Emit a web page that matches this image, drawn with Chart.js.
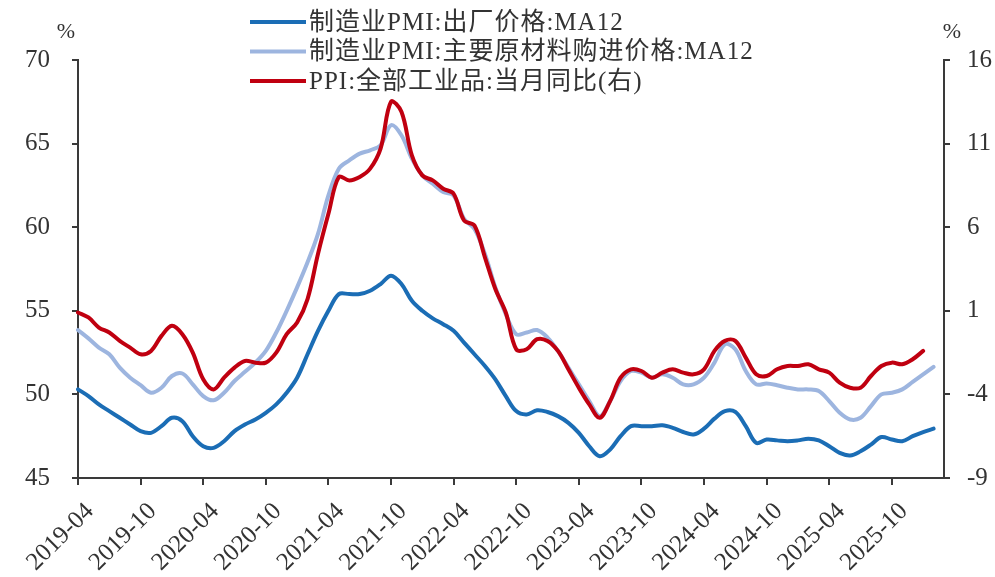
<!DOCTYPE html>
<html>
<head>
<meta charset="utf-8">
<script src="https://cdn.jsdelivr.net/npm/chart.js@4.4.1/dist/chart.umd.min.js"></script>
<style>
  html, body { margin: 0; padding: 0; background: #ffffff; }
  #wrap { width: 995px; height: 577px; }
</style>
</head>
<body>
<div id="wrap"><canvas id="c" width="995" height="577"></canvas></div>
<script>
// Monthly categories, 2019-04 through 2026-03
const months = [];
for (let y = 2019, m = 4; months.length < 84;) {
  months.push(y + '-' + String(m).padStart(2, '0'));
  m++;
  if (m > 12) { m = 1; y++; }
}

// 制造业PMI:出厂价格, 12-month moving average (left axis)
const pmiOutputMA12 = [
  50.3, 49.9, 49.4, 49.0, 48.6, 48.2, 47.8, 47.7, 48.1,
  48.6, 48.4, 47.5, 46.9, 46.8, 47.2, 47.8, 48.2, 48.5, 48.9, 49.4, 50.1,
  51.0, 52.4, 53.8, 55.0, 56.0, 56.0, 56.0, 56.2, 56.6, 57.1, 56.6, 55.6,
  55.0, 54.55, 54.2, 53.8, 53.1, 52.4, 51.7, 50.9, 49.9, 49.0, 48.8, 49.05,
  48.95, 48.7, 48.3, 47.7, 46.9, 46.3, 46.7, 47.5, 48.1, 48.1, 48.1, 48.15,
  48.0, 47.75, 47.6, 47.95, 48.55, 49.0, 48.95, 48.1, 47.1, 47.3, 47.25, 47.2,
  47.25, 47.35, 47.25, 46.9, 46.5, 46.35, 46.6, 47.0, 47.45, 47.3, 47.2, 47.5,
  47.75, 47.95
];

// 制造业PMI:主要原材料购进价格, 12-month moving average (left axis)
const pmiInputMA12 = [
  53.85, 53.35, 52.8, 52.4, 51.6, 51.0, 50.55, 50.1, 50.4,
  51.1, 51.25, 50.6, 49.9, 49.65, 50.1, 50.8, 51.35, 51.9, 52.6, 53.7, 55.0,
  56.4, 57.9, 59.6, 61.9, 63.5, 64.0, 64.4, 64.6, 64.9, 66.1, 65.5, 64.1,
  63.1, 62.6, 62.1, 61.9, 60.5, 59.9, 58.4, 56.4, 54.8, 53.6, 53.7, 53.85,
  53.4, 52.6, 51.6, 50.6, 49.6, 48.7, 49.6, 50.8, 51.4, 51.3, 51.0, 51.2,
  51.0, 50.6, 50.6, 51.0, 51.9, 53.0, 52.7, 51.4, 50.6, 50.65, 50.55, 50.4,
  50.3, 50.3, 50.2, 49.6, 48.9, 48.5, 48.6, 49.3, 50.0, 50.1, 50.3, 50.75,
  51.2, 51.65
];

// PPI:全部工业品:当月同比, % (right axis)
const ppiYoY = [
  0.9, 0.6, 0.0, -0.3, -0.8, -1.2, -1.6, -1.4, -0.5,
  0.1, -0.4, -1.5, -3.1, -3.7, -3.0, -2.4, -2.0, -2.1, -2.1, -1.5, -0.4,
  0.3, 1.7, 4.4, 6.8, 9.0, 8.8, 9.0, 9.5, 10.7, 13.5, 12.9, 10.3,
  9.1, 8.8, 8.3, 8.0, 6.4, 6.1, 4.2, 2.3, 0.9, -1.3, -1.3, -0.7,
  -0.8, -1.4, -2.5, -3.6, -4.6, -5.4, -4.4, -3.0, -2.5, -2.6, -3.0, -2.7,
  -2.5, -2.7, -2.8, -2.5, -1.4, -0.8, -0.8, -1.8, -2.8, -2.9, -2.5, -2.3,
  -2.3, -2.2, -2.5, -2.7, -3.3, -3.6, -3.6, -2.9, -2.3, -2.1, -2.2, -1.9,
  -1.4
];

const leftTicks = [45, 50, 55, 60, 65, 70];
const rightTicks = [-9, -4, 1, 6, 11, 16];
const xLabelEvery = 6;

const seriesNames = [
  '制造业PMI:出厂价格:MA12',
  '制造业PMI:主要原材料购进价格:MA12',
  'PPI:全部工业品:当月同比(右)'
];
const seriesColors = ['#1B6DB5', '#9DB5DF', '#C00010'];

const SERIF = "'Liberation Serif', 'Noto Sans CJK SC', serif";
const AXIS = '#3a3a3a';
const TEXT = '#333333';

// Legend block and unit marks drawn on top of the chart
const legendAndUnits = {
  id: 'legendAndUnits',
  afterDraw(chart) {
    const ctx = chart.ctx;
    ctx.save();
    ctx.font = '25px ' + SERIF;
    ctx.textBaseline = 'middle';
    ctx.textAlign = 'left';
    if ('letterSpacing' in ctx) ctx.letterSpacing = '1px';
    chart.data.datasets.forEach((ds, i) => {
      const y = 22 + i * 29.5;
      ctx.strokeStyle = ds.borderColor;
      ctx.lineWidth = 4;
      ctx.beginPath();
      ctx.moveTo(250, y);
      ctx.lineTo(306, y);
      ctx.stroke();
      ctx.fillStyle = TEXT;
      ctx.fillText(ds.label, 309, y + 1);
    });
    if ('letterSpacing' in ctx) ctx.letterSpacing = '0px';
    ctx.font = '22px ' + SERIF;
    ctx.textAlign = 'center';
    ctx.fillStyle = TEXT;
    ctx.fillText('%', 66, 32);
    ctx.fillText('%', 952, 32);
    ctx.restore();
  }
};

const yCommon = {
  grid: { display: true, drawOnChartArea: false, drawTicks: true, tickLength: 6, lineWidth: 2, color: AXIS },
  border: { display: true, color: AXIS, width: 2 }
};

new Chart(document.getElementById('c'), {
  type: 'line',
  data: {
    labels: months,
    datasets: [
      { label: seriesNames[0], data: pmiOutputMA12, yAxisID: 'yL', borderColor: seriesColors[0], order: 1 },
      { label: seriesNames[1], data: pmiInputMA12, yAxisID: 'yL', borderColor: seriesColors[1], order: 2 },
      { label: seriesNames[2], data: ppiYoY, yAxisID: 'yR', borderColor: seriesColors[2], order: 0 }
    ].map(d => Object.assign(d, {
      borderWidth: 4, pointRadius: 0, pointHoverRadius: 0, tension: 0.35,
      borderCapStyle: 'round', borderJoinStyle: 'round', fill: false
    }))
  },
  options: {
    responsive: false,
    devicePixelRatio: 1,
    animation: false,
    layout: { padding: { top: 60, left: 0, right: 0, bottom: 0 } },
    plugins: { legend: { display: false }, tooltip: { enabled: false } },
    scales: {
      x: {
        type: 'category',
        offset: false,
        grid: {
          display: true, drawOnChartArea: false, drawTicks: true, tickLength: 7, lineWidth: 2,
          color: c => (c.index % xLabelEvery === 0 ? AXIS : 'rgba(0,0,0,0)')
        },
        border: { display: true, color: AXIS, width: 2 },
        ticks: {
          autoSkip: false, minRotation: 45, maxRotation: 45, padding: 12, labelOffset: 12,
          color: TEXT, font: { family: SERIF, size: 25 },
          callback: (v, i) => (i % xLabelEvery === 0 ? months[i] : '')
        },
        afterFit: s => { s.height = 99; }
      },
      yL: Object.assign({}, yCommon, {
        position: 'left', min: 45, max: 70,
        afterBuildTicks: s => { s.ticks = leftTicks.map(v => ({ value: v })); },
        ticks: { padding: 22, color: TEXT, font: { family: SERIF, size: 25 } },
        afterFit: s => { s.width = 78; }
      }),
      yR: Object.assign({}, yCommon, {
        position: 'right', min: -9, max: 16,
        afterBuildTicks: s => { s.ticks = rightTicks.map(v => ({ value: v })); },
        ticks: { padding: 17, color: TEXT, font: { family: SERIF, size: 25 } },
        afterFit: s => { s.width = 51; }
      })
    }
  },
  plugins: [legendAndUnits]
});
</script>
</body>
</html>
